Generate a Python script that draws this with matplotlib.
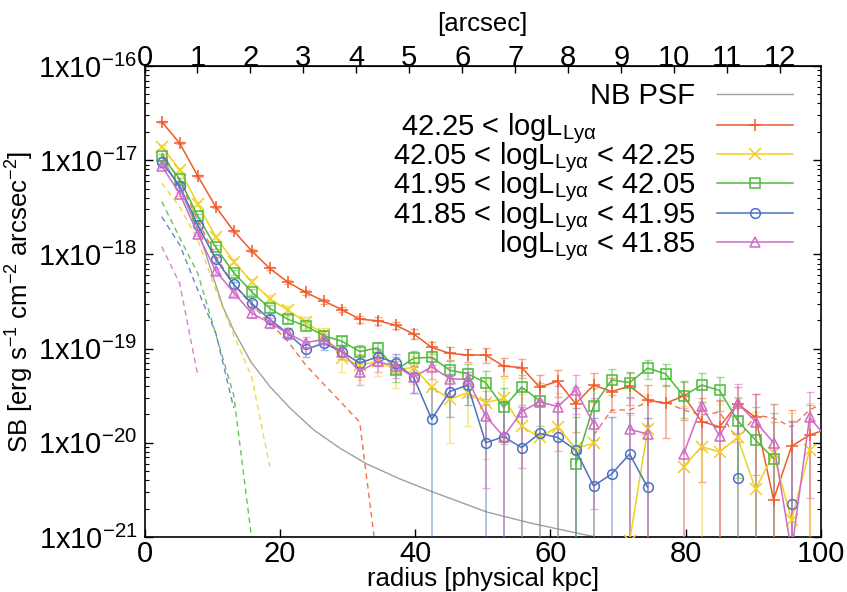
import numpy as np
import matplotlib
matplotlib.use('Agg')
import matplotlib.pyplot as plt
from matplotlib.ticker import FixedLocator, LogLocator, FuncFormatter, NullFormatter

plt.rcParams['font.family'] = ['Liberation Sans', 'DejaVu Sans']
plt.rcParams['mathtext.fontset'] = 'custom'
plt.rcParams['mathtext.rm'] = 'Liberation Sans'
plt.rcParams['mathtext.it'] = 'Liberation Sans:italic'
plt.rcParams['mathtext.bf'] = 'Liberation Sans:bold'

nan = np.nan

# radius bins [physical kpc]
radius = [2.55, 5.21, 7.87, 10.53, 13.19, 15.85, 18.51, 21.17, 23.83, 26.49,
          29.15, 31.81, 34.47, 37.13, 39.79, 42.45, 45.11, 47.77, 50.43, 53.09,
          55.75, 58.41, 61.07, 63.73, 66.39, 69.05, 71.71, 74.37, 77.03, 79.69,
          82.35, 85.01, 87.67, 90.33, 92.99, 95.65, 98.31, 100.97]

sb_bin1 = [2.56e-17, 1.51e-17, 6.8e-18, 3.2e-18, 1.77e-18, 1.09e-18, 7.1e-19, 5.1e-19, 3.95e-19, 3.2e-19,
           2.6e-19, 2.05e-19, 1.98e-19, 1.77e-19, 1.43e-19, 1.03e-19, 8.9e-20, 8.55e-20, 8.55e-20, 6.5e-20,
           6.3e-20, 3.9e-20, 4.5e-20, 2.6e-20, 4.1e-20, 3.5e-20, 4.0e-20, 2.85e-20, 2.63e-20, 3.14e-20,
           1.68e-20, 1.48e-20, 2.58e-20, 1.86e-20, 2.5e-21, 9.2e-21, 1.21e-20, 1.4e-20]
err_bin1 = [6e-19, 3.5e-19, 1.7e-19, 9e-20, 6e-20, 4e-20, 3e-20, 2.5e-20, 2.2e-20, 2e-20,
            1.8e-20, 1.6e-20, 1.8e-20, 1.6e-20, 1.7e-20, 1.5e-20, 1.4e-20, 1.4e-20, 1.5e-20, 1.4e-20,
            1.4e-20, 1.4e-20, 1.4e-20, 1.3e-20, 1.4e-20, 1.4e-20, 1.5e-20, 1.3e-20, 1.5e-20, 1.4e-20,
            1.3e-20, 1.4e-20, 1.3e-20, 1.4e-20, 1.4e-20, 1.3e-20, 1.3e-20, 1.3e-20]

sb_bin2 = [1.39e-17, 7.9e-18, 3.43e-18, 1.54e-18, 8.4e-19, 5.1e-19, 3.39e-19, 2.57e-19, 1.9e-19, 1.43e-19,
           7.9e-20, 6.7e-20, 7.3e-20, 6.0e-20, 6.3e-20, 3.9e-20, 2.9e-20, 3.4e-20, 2.67e-20, 2.96e-20,
           1.5e-20, 1.14e-20, 1.48e-20, 8.7e-21, 9.9e-21, nan, 9e-22, 1.39e-20, nan, 5.6e-21,
           9.1e-21, 8.0e-21, 1.14e-20, 3.2e-21, 7.7e-21, 1.5e-21, 8.4e-21, nan]
err_bin2 = [5e-19, 3e-19, 1.3e-19, 7e-20, 5e-20, 3.5e-20, 3e-20, 2.5e-20, 2.5e-20, 2.4e-20,
            2.2e-20, 2.1e-20, 2.2e-20, 2.2e-20, 2.1e-20, 2.0e-20, 1.9e-20, 1.9e-20, 2.0e-20, 1.9e-20,
            1.8e-20, 1.8e-20, 1.9e-20, 1.8e-20, 1.8e-20, 1.8e-20, 1.9e-20, 1.8e-20, 1.8e-20, 1.9e-20,
            1.8e-20, 1.8e-20, 1.9e-20, 1.8e-20, 1.8e-20, 1.9e-20, 1.8e-20, 1.8e-20]

sb_bin3 = [1.11e-17, 6.3e-18, 2.56e-18, 1.19e-18, 6.4e-19, 4.0e-19, 2.68e-19, 2.05e-19, 1.74e-19, 1.37e-19,
           1.2e-19, 9.3e-20, 1.02e-19, 5.9e-20, 7.9e-20, 8.1e-20, 5.9e-20, 5.4e-20, 4.35e-20, 2.38e-20,
           3.9e-20, 2.8e-20, nan, 5.96e-21, 2.46e-20, 4.65e-20, 4.35e-20, 6.2e-20, 5.4e-20, 3.14e-20,
           4.1e-20, 3.6e-20, 1.72e-20, 1.07e-20, 6.8e-21, nan, nan, nan]
err_bin3 = [4e-19, 2.5e-19, 1.1e-19, 6e-20, 4e-20, 3e-20, 2.5e-20, 2.0e-20, 1.8e-20, 1.7e-20,
            1.6e-20, 1.5e-20, 1.6e-20, 1.5e-20, 1.5e-20, 1.4e-20, 1.4e-20, 1.4e-20, 1.4e-20, 1.4e-20,
            1.4e-20, 1.3e-20, 1.4e-20, 1.3e-20, 1.4e-20, 1.4e-20, 1.3e-20, 1.4e-20, 1.4e-20, 1.3e-20,
            1.4e-20, 1.4e-20, 1.3e-20, 1.3e-20, 1.4e-20, 1.4e-20, 1.3e-20, 1.3e-20]

sb_bin4 = [9.6e-18, 5.3e-18, 2.05e-18, 8.9e-19, 4.8e-19, 3.02e-19, 2.05e-19, 1.45e-19, 9.8e-20, 1.14e-19,
           9.3e-20, 7.0e-20, 8.2e-20, 7.1e-20, 4.95e-20, 1.78e-20, 3.5e-20, 4.1e-20, 1.0e-20, 1.16e-20,
           8.9e-21, 1.26e-20, 1.14e-20, 8.4e-21, 3.48e-21, 4.67e-21, 7.6e-21, 3.37e-21, nan, nan,
           nan, nan, 4.2e-21, nan, nan, 2.24e-21, nan, nan]
err_bin4 = [3.5e-19, 2.2e-19, 1.0e-19, 5e-20, 3.5e-20, 2.8e-20, 2.2e-20, 1.9e-20, 1.7e-20, 1.7e-20,
            1.6e-20, 1.6e-20, 1.6e-20, 1.6e-20, 1.6e-20, 2.0e-20, 1.6e-20, 1.6e-20, 1.6e-20, 1.5e-20,
            1.5e-20, 1.5e-20, 1.5e-20, 1.5e-20, 1.5e-20, 1.4e-20, 1.3e-20, 1.5e-20, 1.5e-20, 1.5e-20,
            1.5e-20, 1.5e-20, 1.5e-20, 1.5e-20, 1.5e-20, 1.5e-20, 1.5e-20, 1.5e-20]

sb_bin5 = [8.7e-18, 4.4e-18, 1.65e-18, 6.7e-19, 3.93e-19, 2.37e-19, 1.88e-19, 1.45e-19, 1.16e-19, 1.25e-19,
           9.3e-20, 5.7e-20, 7.3e-20, 6.5e-20, 5.0e-20, 6.4e-20, 4.8e-20, 4.7e-20, 1.93e-20, 1.16e-20,
           2.14e-20, 2.73e-20, 2.42e-20, 3.63e-20, 1.6e-20, nan, 1.39e-20, 1.24e-20, nan, 7.6e-21,
           2.46e-20, 1.18e-20, 2.63e-20, 1.68e-20, 1.0e-20, 7e-22, 1.86e-20, 1.1e-20]
err_bin5 = [3.5e-19, 2.0e-19, 9e-20, 4.5e-20, 3.2e-20, 2.6e-20, 2.2e-20, 1.9e-20, 1.8e-20, 1.7e-20,
            1.6e-20, 1.6e-20, 1.6e-20, 1.6e-20, 1.6e-20, 1.6e-20, 1.6e-20, 1.6e-20, 1.6e-20, 1.6e-20,
            1.6e-20, 1.6e-20, 1.6e-20, 1.6e-20, 1.4e-20, 1.6e-20, 1.6e-20, 1.6e-20, 1.6e-20, 1.6e-20,
            1.6e-20, 1.6e-20, 1.6e-20, 1.6e-20, 1.6e-20, 1.6e-20, 1.6e-20, 1.6e-20]

# dashed profiles (one per bin)
dash_bin1 = [1.2e-17, 6.0e-18, 2.3e-18, 9.5e-19, 4.8e-19, 2.9e-19, 1.87e-19, 1.2e-19, 6.7e-20, 4.2e-20,
             2.64e-20, 1.66e-20, 5e-22, nan, nan, nan, nan, nan, nan, nan,
             nan, nan, nan, nan, 1.2e-20, 2.23e-20, 2.23e-20, 2.71e-20, 2.71e-20, 2.23e-20,
             1.97e-20, 2.12e-20, 1.07e-20, 1.97e-20, 1.83e-20, 1.47e-20, 2.23e-20, 2.8e-20]
dash_bin2 = [5.7e-18, 3.2e-18, 1.42e-18, 4.2e-19, 1.39e-19, 5.0e-20, 5.6e-21]
dash_bin3 = [3.63e-18, 1.5e-18, 6.3e-19, 1.43e-19, 3.2e-20, 9.5e-22]
dash_bin4 = [2.51e-18, 1.26e-18, 4.2e-19, 1.47e-19, 2.34e-20]
dash_bin5 = [1.21e-18, 4.9e-19, 5.2e-20]

# NB PSF profile
psf_r = [2.59, 5.2, 7.91, 11.6, 13.16, 15.74, 18.55, 21.51, 25.01, 28.86,
         32.85, 37.77, 42.65, 50.63, 56.98, 63.93, 67.33]
psf_sb = [1.08e-17, 5.0e-18, 1.82e-18, 2.77e-19, 1.57e-19, 7.21e-20, 3.94e-20, 2.34e-20, 1.37e-20, 8.8e-21,
          5.96e-21, 4.13e-21, 3.0e-21, 1.84e-21, 1.41e-21, 1.10e-21, 9.8e-22]

psf_label = 'NB PSF'
labels = ['42.25 < logL$_{\\mathregular{Lyα}}$' + ' ' * 13,
          '42.05 < logL$_{\\mathregular{Lyα}}$ < 42.25',
          '41.95 < logL$_{\\mathregular{Lyα}}$ < 42.05',
          '41.85 < logL$_{\\mathregular{Lyα}}$ < 41.95',
          'logL$_{\\mathregular{Lyα}}$ < 41.85']
colors = ['#f05a28', '#f0d020', '#4cbb3a', '#4a72c0', '#d06ac8']
markers = ['+', 'x', 's', 'o', '^']
kpc_per_arcsec = 7.83

fig = plt.figure(figsize=(8.47, 5.92), dpi=100)
ax = fig.add_axes([144.5 / 847, 1 - 537 / 592, 676.5 / 847, 471 / 592])

r = np.array(radius)
sbs = [sb_bin1, sb_bin2, sb_bin3, sb_bin4, sb_bin5]
errs = [err_bin1, err_bin2, err_bin3, err_bin4, err_bin5]
dashes = [dash_bin1, dash_bin2, dash_bin3, dash_bin4, dash_bin5]

psf_line, = ax.plot(psf_r, psf_sb, color='#a0a0a0', lw=1.0, zorder=2)

for d, c in zip(dashes, colors):
    ax.plot(r[:len(d)], d, color=c, lw=1.0, ls=(0, (4, 3)), alpha=0.85, zorder=2)

handles = []
for sb, er, c, m in zip(sbs, errs, colors, markers):
    ax.errorbar(r, sb, yerr=er, fmt='none', ecolor=c, elinewidth=1.2, capsize=3.2,
                capthick=1.0, alpha=0.5, zorder=3)
    ms = 7 if m in ('s', 'o', '^') else 8
    h, = ax.plot(r, sb, color=c, lw=1.1, marker=m, ms=ms, mfc='none', mew=1.1, zorder=4)
    handles.append(h)

ax.set_yscale('log')
ax.set_xlim(0, 100)
ax.set_ylim(1e-21, 1e-16)

ax.xaxis.set_major_locator(FixedLocator([0, 20, 40, 60, 80, 100]))
ax.yaxis.set_major_locator(FixedLocator([1e-21, 1e-20, 1e-19, 1e-18, 1e-17, 1e-16]))
ax.yaxis.set_minor_locator(LogLocator(base=10, subs=np.arange(2, 10), numticks=20))
ax.yaxis.set_minor_formatter(NullFormatter())
ax.yaxis.set_major_formatter(FuncFormatter(
    lambda v, p: '$\\mathregular{1x10^{%d}}$' % int(round(np.log10(v)))))

ax.tick_params(axis='both', which='both', direction='in', labelsize=21, top=False, right=True)
ax.tick_params(axis='both', which='major', length=6, width=1.0)
ax.tick_params(axis='y', which='minor', length=3, width=0.8)
ax.tick_params(axis='x', which='major', pad=2)
ax.tick_params(axis='y', which='major', pad=5)
for s in ax.spines.values():
    s.set_linewidth(1.2)

sec = ax.secondary_xaxis('top', functions=(lambda x: x / kpc_per_arcsec,
                                           lambda a: a * kpc_per_arcsec))
sec.set_xticks(list(range(0, 13)))
sec.tick_params(direction='in', length=5, width=1.0, labelsize=21, pad=-4)
sec.set_xlabel('[arcsec]', fontsize=18.5, labelpad=9)

ax.set_xlabel('radius [physical kpc]', fontsize=18.5)
ax.xaxis.set_label_coords(0.5, -0.063)
ax.set_ylabel('SB [erg s$^{\\mathregular{-1}}$ cm$^{\\mathregular{-2}}$ arcsec$^{\\mathregular{-2}}$]',
              fontsize=18.5, labelpad=2)

leg_common = dict(loc='upper right', frameon=False, markerfirst=False, fontsize=21,
                  handlelength=2.6, handletextpad=0.75, borderaxespad=0.0, borderpad=0.0)
leg_psf = ax.legend([psf_line], [psf_label], bbox_to_anchor=(0.9586, 0.9665), **leg_common)
ax.add_artist(leg_psf)
leg = ax.legend(handles, labels, bbox_to_anchor=(0.9586, 0.9028), labelspacing=-0.19, **leg_common)

fig.savefig('out.png', dpi=100)
